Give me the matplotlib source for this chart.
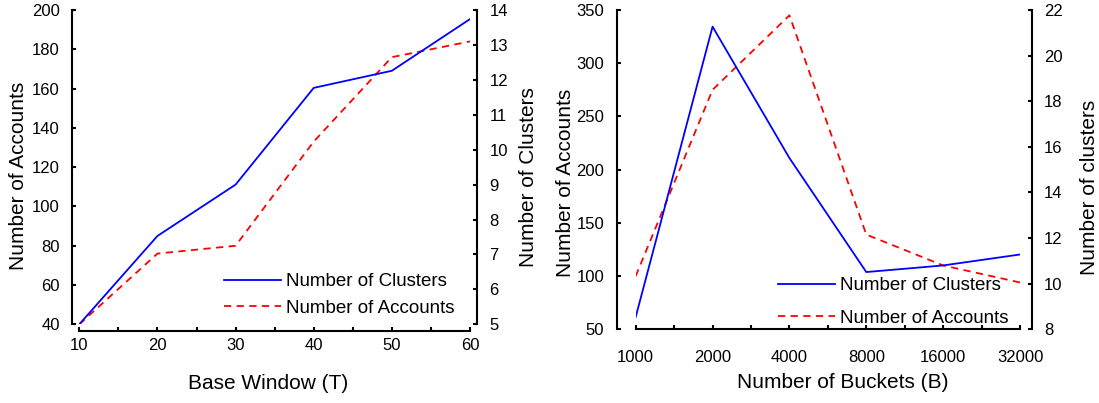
import matplotlib
matplotlib.use('Agg')
from matplotlib import pyplot as plt
from matplotlib.ticker import FixedLocator, NullFormatter

plt.rcParams['font.family'] = ['Liberation Sans', 'DejaVu Sans']

# left chart: base window
windows = [10, 20, 30, 40, 50, 60]
win_clusters = [5.0, 7.53, 9.0, 11.77, 12.26, 13.74]
win_accounts = [40, 76, 80, 133, 176, 184]

# right chart: buckets
buckets = [1000, 2000, 4000, 8000, 16000, 32000]
bkt_clusters = [8.54, 21.27, 15.51, 10.51, 10.8, 11.28]
bkt_accounts = [100, 275, 345, 139, 110, 94]

TICK_FS = 12
LABEL_FS = 15
LEG_FS = 13.5


def style_axes(ax, ax2, left_off, right_off, bottom_off, xpad):
    for s in ['top', 'right']:
        ax.spines[s].set_visible(False)
    for s in ['top', 'left', 'bottom']:
        ax2.spines[s].set_visible(False)
    ax.spines['left'].set_position(('outward', left_off))
    ax.spines['bottom'].set_position(('outward', bottom_off))
    ax2.spines['right'].set_position(('outward', right_off))
    for sp in [ax.spines['left'], ax.spines['bottom'], ax2.spines['right']]:
        sp.set_linewidth(1.5)
    ax.tick_params(axis='y', direction='in', length=3, width=1.5,
                   labelsize=TICK_FS, pad=9)
    ax.tick_params(axis='x', which='both', direction='in', length=3,
                   width=1.5, labelsize=TICK_FS, pad=xpad)
    ax2.tick_params(axis='y', direction='in', length=3, width=1.5,
                    labelsize=TICK_FS, pad=9)


fig = plt.figure(figsize=(10.99, 4.03), dpi=100)

# ---- left chart
ax = fig.add_axes([79.3 / 1099, 1 - 324.3 / 403, 390.7 / 1099, 314.3 / 403])
ax2 = ax.twinx()
l_acc, = ax.plot(windows, win_accounts, c='#ff0000', ls=(0, (4, 3)), lw=1.3,
                 label='Number of Accounts')
l_clu, = ax2.plot(windows, win_clusters, c='#0000ff', lw=1.3,
                  label='Number of Clusters')
ax.set_xlim(10, 60)
ax.set_ylim(40, 200)
ax2.set_ylim(5, 14)
ax.set_xticks(windows)
ax.xaxis.set_minor_locator(FixedLocator([15, 25, 35, 45, 55]))
ax.set_yticks(range(40, 201, 20))
ax2.set_yticks(range(5, 15))
style_axes(ax, ax2, 5.0, 5.0, 4.6, 5)

ax.set_xlabel('Base Window (T)', fontsize=LABEL_FS, va='center')
ax.xaxis.set_label_coords(0.483, -0.187)
ax.set_ylabel('Number of Accounts', fontsize=LABEL_FS, va='center')
ax.yaxis.set_label_coords(-0.155, 0.472)
ax2.set_ylabel('Number of Clusters', fontsize=LABEL_FS, va='center')
ax2.yaxis.set_label_coords(1.151, 0.47)

ax2.legend([l_clu, l_acc], ['Number of Clusters', 'Number of Accounts'],
           loc='lower right', bbox_to_anchor=(0.98, 0.0), frameon=False,
           fontsize=LEG_FS, handlelength=3.0, handletextpad=0.3,
           labelspacing=0.5, borderaxespad=0.0)

# ---- right chart
bx = fig.add_axes([635.7 / 1099, 1 - 329.3 / 403, 384.3 / 1099, 319.3 / 403])
bx2 = bx.twinx()
b_acc, = bx.plot(buckets, bkt_accounts, c='#ff0000', ls=(0, (4, 3)), lw=1.3)
b_clu, = bx2.plot(buckets, bkt_clusters, c='#0000ff', lw=1.3)
bx.set_xscale('log', base=2)
bx.set_xlim(1000, 32000)
bx.set_ylim(50, 350)
bx2.set_ylim(8, 22)
bx.set_xticks(buckets)
bx.set_xticklabels([str(b) for b in buckets])
bx.xaxis.set_minor_locator(FixedLocator([b * 2 ** 0.5 for b in buckets[:-1]]))
bx.xaxis.set_minor_formatter(NullFormatter())
bx.set_yticks(range(50, 351, 50))
bx2.set_yticks(range(8, 23, 2))
style_axes(bx, bx2, 13.7, 8.4, 0, 15)

bx.set_xlabel('Number of Buckets (B)', fontsize=LABEL_FS, va='center')
bx.xaxis.set_label_coords(0.539, -0.168)
bx.set_ylabel('Number of Accounts', fontsize=LABEL_FS, va='center')
bx.yaxis.set_label_coords(-0.182, 0.458)
bx2.set_ylabel('Number of clusters', fontsize=LABEL_FS, va='center')
bx2.yaxis.set_label_coords(1.182, 0.446)

bx2.legend([b_clu, b_acc], ['Number of Clusters', 'Number of Accounts'],
           loc='lower right', bbox_to_anchor=(0.99, -0.015), frameon=False,
           fontsize=LEG_FS, handlelength=3.0, handletextpad=0.3,
           labelspacing=0.8, borderaxespad=0.0)

plt.savefig('out.png', dpi=100)
